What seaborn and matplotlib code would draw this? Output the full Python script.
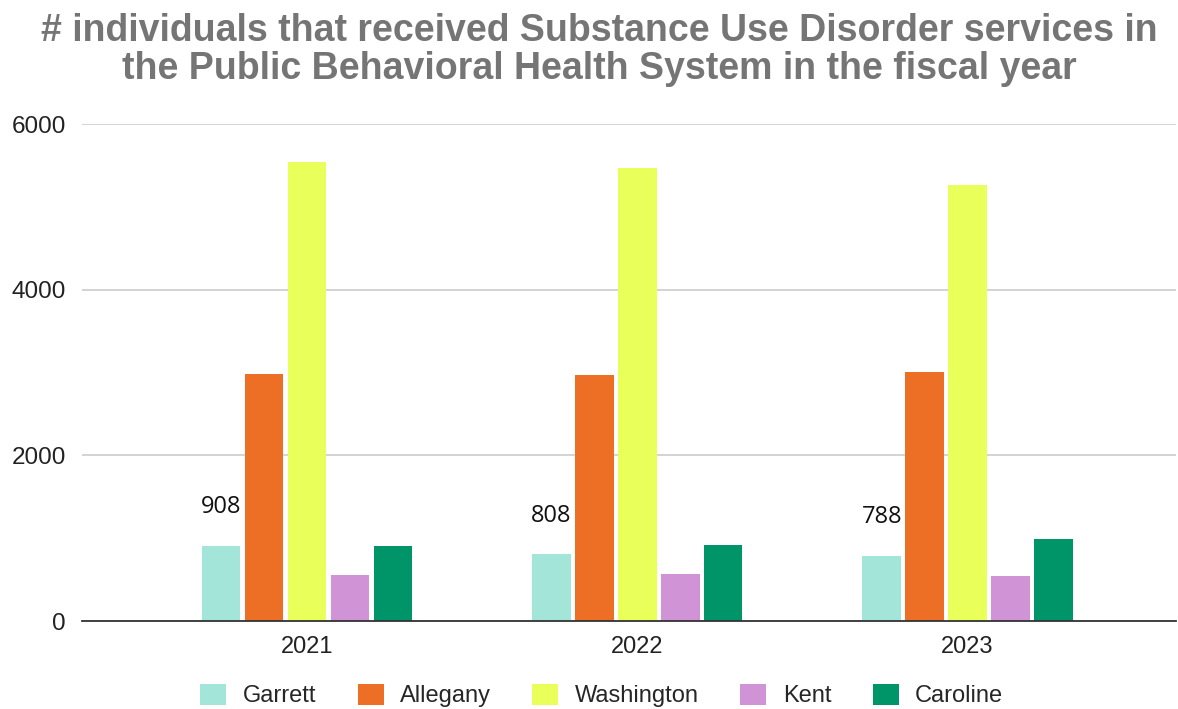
import seaborn as sns
import pandas as pd
import matplotlib.pyplot as plt

sns.set_theme(style="white")
plt.rcParams['font.family'] = ['Liberation Sans', 'DejaVu Sans']

# values
years = ['2021', '2022', '2023']
counties = ['Garrett', 'Allegany', 'Washington', 'Kent', 'Caroline']
garrett = [908, 808, 788]
allegany = [2980, 2976, 3004]
washington = [5540, 5464, 5264]
kent = [558, 564, 544]
caroline = [910, 916, 996]

colors = ['#a3e6d9', '#ed6f25', '#e9ff5a', '#cf93d6', '#009469']

rows = []
for name, vals in zip(counties, [garrett, allegany, washington, kent, caroline]):
    for y, v in zip(years, vals):
        rows.append({'Year': y, 'County': name, 'Count': v})
df = pd.DataFrame(rows)

fig, ax = plt.subplots(figsize=(11.78, 7.09), dpi=100)
fig.subplots_adjust(left=0.07, right=0.998, top=0.825, bottom=0.124)

sns.barplot(data=df, x='Year', y='Count', hue='County', hue_order=counties,
            palette=colors, saturation=1, width=0.65, gap=0.1, linewidth=0, ax=ax)

# only the Garrett series is labelled
ax.bar_label(ax.containers[0], padding=19, fontsize=17, color='#111111',
             family=['Open Sans', 'DejaVu Sans'])

ax.set_ylim(0, 6000)
ax.set_xlim(-0.68, 2.63)
ax.set_yticks([0, 2000, 4000, 6000])
ax.yaxis.grid(True, color='#cccccc', linewidth=1.2)
ax.set_axisbelow(True)
for s in ['left', 'right', 'top']:
    ax.spines[s].set_visible(False)
ax.spines['bottom'].set_color('#333333')
ax.spines['bottom'].set_linewidth(1.3)
ax.tick_params(axis='y', labelsize=17.5, colors='#222222', length=0, pad=12)
ax.tick_params(axis='x', labelsize=17, colors='#222222', length=0, pad=11)
ax.set_xlabel('')
ax.set_ylabel('')

ax.legend(loc='upper center', bbox_to_anchor=(0.475, -0.083), ncol=5, frameon=False,
          fontsize=17, handlelength=1.1, handleheight=1.0, columnspacing=1.75,
          handletextpad=0.7)

fig.suptitle('# individuals that received Substance Use Disorder services in\n'
             'the Public Behavioral Health System in the fiscal year',
             fontsize=27, fontweight='bold', color='#757575', x=0.509, y=0.982,
             linespacing=1.08)

fig.savefig('out.png', dpi=100)
